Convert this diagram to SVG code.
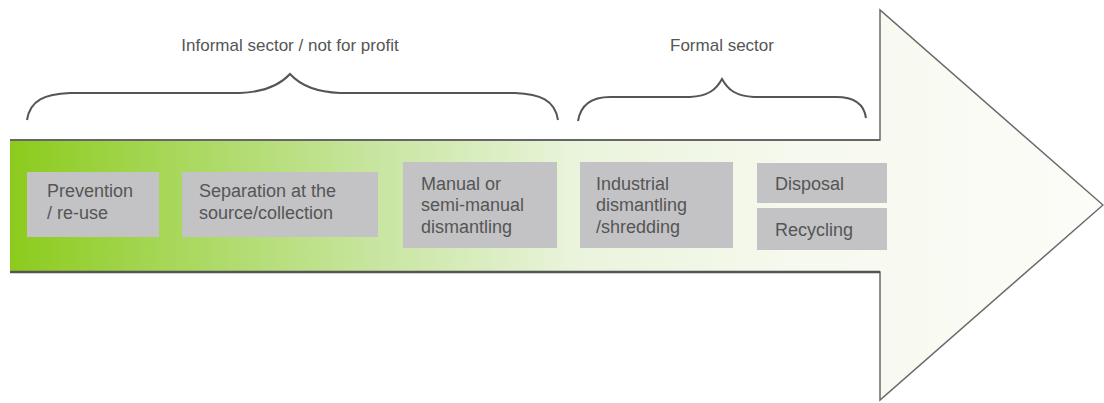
<svg xmlns="http://www.w3.org/2000/svg" width="1104" height="403" viewBox="0 0 1104 403">
<defs>
<linearGradient id="g" gradientUnits="userSpaceOnUse" x1="10" y1="0" x2="1103" y2="0">
<stop offset="0" stop-color="#8ccb1c"/>
<stop offset="0.12" stop-color="#a2d54f"/>
<stop offset="0.34" stop-color="#c9e6a2"/>
<stop offset="0.52" stop-color="#eaf4dc"/>
<stop offset="0.72" stop-color="#f6f9ee"/>
<stop offset="1" stop-color="#fcfcf8"/>
</linearGradient>
</defs>
<style>
.box{fill:#c3c3c5;}
.t{font-family:"Liberation Sans",Arial,sans-serif;font-size:18px;fill:#555;}
.h{font-family:"Liberation Sans",Arial,sans-serif;font-size:17px;fill:#555;text-anchor:middle;}
.brace{fill:none;stroke:#555;stroke-width:2;}
</style>
<rect width="1104" height="403" fill="#ffffff"/>
<g id="arrow">
<polygon points="10,140 880,140 880,10 1103,205 880,400 880,272 10,272" fill="url(#g)"/>
<polyline points="10,140 880,140 880,10 1103,205 880,400 880,272 10,272" fill="none" stroke="#6a6a6a" stroke-width="1.5"/>
<line x1="10" y1="140" x2="880" y2="140" stroke="#666" stroke-width="2"/>
<line x1="10" y1="272" x2="880" y2="272" stroke="#555" stroke-width="2.5"/>
</g>
<g id="labels">
<text class="h" x="290" y="51">Informal sector / not for profit</text>
<text class="h" x="722" y="51">Formal sector</text>
</g>
<g id="braces">
<path class="brace" d="M27,120 C30,100 45,94 70,93 L240,93 C265,92 280,85 290,74 C300,85 315,92 340,93 L515,93 C540,94 555,100 558,120"/>
<path class="brace" d="M578,121 C581,103 593,97 610,97 L690,97 C708,96 716,90 722,79 C728,90 736,96 754,97 L836,97 C853,97 864,103 866,118"/>
</g>
<g id="n1">
<rect class="box" x="27" y="172" width="132" height="65"/>
<text class="t" x="47" y="197">Prevention</text>
<text class="t" x="47" y="219">/ re-use</text>
</g>
<g id="n2">
<rect class="box" x="182" y="172" width="196" height="65"/>
<text class="t" x="199" y="197">Separation at the</text>
<text class="t" x="199" y="219">source/collection</text>
</g>
<g id="n3">
<rect class="box" x="403" y="162" width="154" height="86"/>
<text class="t" x="421" y="190">Manual or</text>
<text class="t" x="421" y="211">semi-manual</text>
<text class="t" x="421" y="233">dismantling</text>
</g>
<g id="n4">
<rect class="box" x="580" y="162" width="153" height="86"/>
<text class="t" x="596" y="190">Industrial</text>
<text class="t" x="596" y="211">dismantling</text>
<text class="t" x="596" y="233">/shredding</text>
</g>
<g id="n5">
<rect class="box" x="757" y="163" width="130" height="40"/>
<text class="t" x="775" y="190">Disposal</text>
</g>
<g id="n6">
<rect class="box" x="757" y="208" width="130" height="42"/>
<text class="t" x="775" y="236">Recycling</text>
</g>
</svg>
